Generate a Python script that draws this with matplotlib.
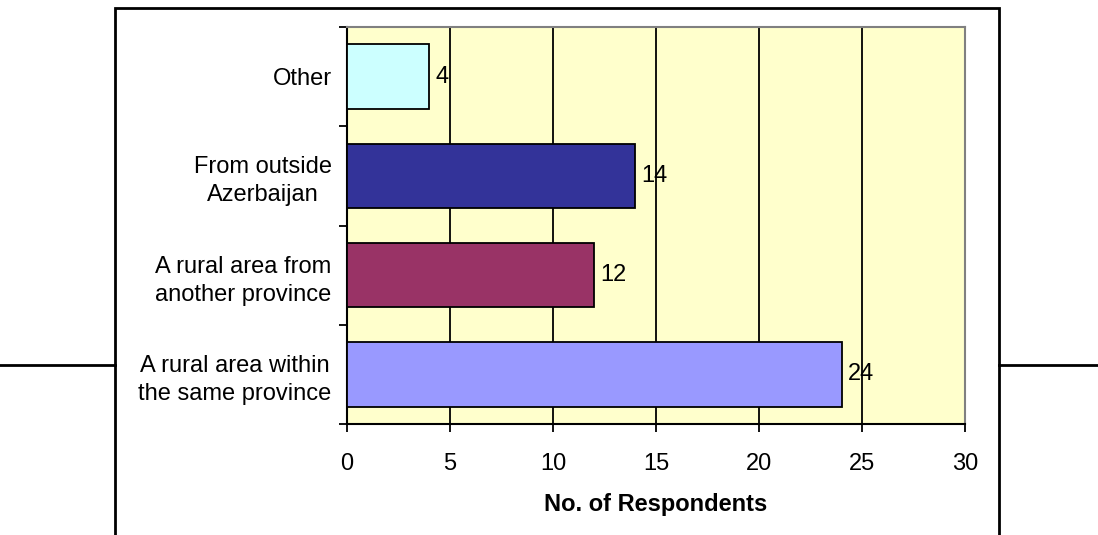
import matplotlib.pyplot as plt
from matplotlib.lines import Line2D
from matplotlib.patches import Rectangle

plt.rcParams["font.family"] = ["Liberation Sans", "DejaVu Sans"]

categories = [
    "A rural area within\nthe same province",
    "A rural area from\nanother province",
    "From outside\nAzerbaijan",
    "Other",
]
respondents = [24, 12, 14, 4]
bar_colors = ["#9999FF", "#993366", "#333399", "#CCFFFF"]
x_ticks = [0, 5, 10, 15, 20, 25, 30]

fs = 17

fig = plt.figure(figsize=(10.98, 5.35), dpi=100)
ax = fig.add_axes([0.316, 0.2075, 0.563, 0.742])
ax.set_facecolor("#FFFFCC")

ypos = list(range(len(categories)))
ax.barh(ypos, respondents, height=0.65, color=bar_colors,
        edgecolor="black", linewidth=1.3, zorder=3)

for y, v in zip(ypos, respondents):
    ax.text(v + 0.3, y, str(v), va="center", ha="left", fontsize=fs, zorder=2)

ax.set_xlim(0, 30)
ax.set_ylim(-0.5, len(categories) - 0.5)
ax.set_xticks(x_ticks)
ax.set_yticks(ypos)
ax.set_yticklabels(categories, multialignment="center", linespacing=1.35)
ax.set_yticks([y - 0.5 for y in range(len(categories) + 1)], minor=True)
ax.tick_params(axis="y", which="major", length=0, pad=11, labelsize=fs)
ax.tick_params(axis="y", which="minor", length=6, width=1.3, color="black")
ax.tick_params(axis="x", length=6, width=1.3, pad=15, labelsize=fs)

ax.grid(axis="x", color="black", linewidth=1.3, zorder=1)
ax.set_axisbelow(True)

for side in ["top", "right"]:
    ax.spines[side].set_color("#808080")
    ax.spines[side].set_linewidth(1.5)
for side in ["left", "bottom"]:
    ax.spines[side].set_color("black")
    ax.spines[side].set_linewidth(1.5)

ax.set_xlabel("No. of Respondents", fontsize=fs, fontweight="bold", labelpad=13)

# page frame around the chart
fig.add_artist(Rectangle((0.1047, -0.05), 0.9098 - 0.1047, 0.985 + 0.05,
                         transform=fig.transFigure, fill=False,
                         edgecolor="black", linewidth=2))
fig.add_artist(Line2D([0, 0.1047], [0.3178, 0.3178], transform=fig.transFigure,
                      color="black", linewidth=2))
fig.add_artist(Line2D([0.9098, 1], [0.3178, 0.3178], transform=fig.transFigure,
                      color="black", linewidth=2))

fig.savefig("out.png", dpi=100)
